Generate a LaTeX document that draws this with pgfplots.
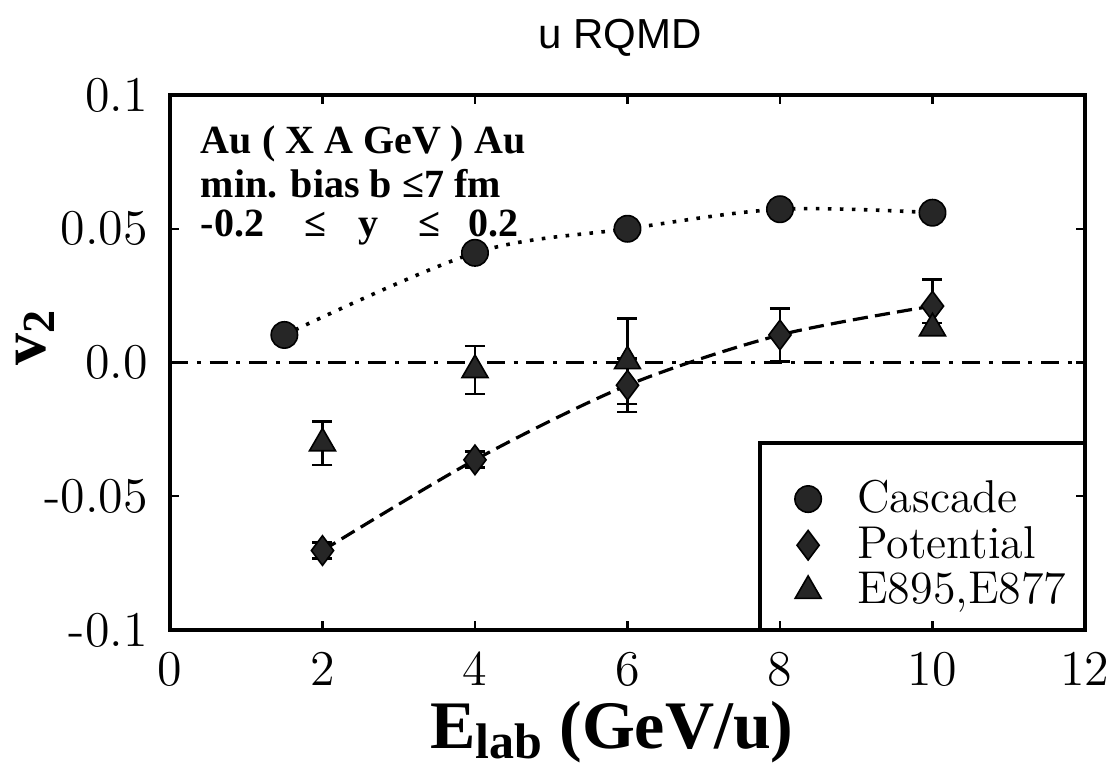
\documentclass[border=0pt]{standalone}
\usepackage{fontspec}
\usepackage{pgfplots}
\pgfplotsset{compat=1.18}
\newfontfamily\timesfont{Liberation Serif}
\newfontfamily\handfont{Liberation Sans}

% v2 versus beam energy
\pgfplotstableread{
x     y
1.5   0.0103
4     0.0410
6     0.0500
8     0.0573
10    0.0560
}\cascade
\pgfplotstableread{
x     y        e
2    -0.0703   0.003
4    -0.0364   0.003
6    -0.0085   0.010
8     0.0103   0.010
10    0.0211   0.010
}\potential
\pgfplotstableread{
x     y        e
2    -0.0302   0.0081
4    -0.0028   0.0090
6     0.0005   0.0160
10    0.0128   0.0020
}\experiment

\begin{document}
\begin{tikzpicture}
\begin{axis}[
  scale only axis,
  width=228.75pt, height=133.75pt,
  xmin=0, xmax=12, ymin=-0.1, ymax=0.1,
  xtick={0,2,...,12},
  ytick={-0.1,-0.05,0,0.05,0.1},
  yticklabels={-0.1,-0.05,0.0,0.05,0.1},
  /pgf/number format/assume math mode=true,
  tick align=inside,
  major tick length=2.2pt,
  axis line style={line width=0.8pt},
  tick style={line width=0.6pt, black},
  ticklabel style={font=\fontsize{12.5}{14}\selectfont},
  xticklabel style={yshift=-2pt},
  yticklabel style={xshift=-2pt},
  clip=false,
  xlabel={\timesfont\bfseries\fontsize{17}{20}\selectfont E\raisebox{-0.35ex}{\fontsize{12.5}{14}\selectfont lab} (GeV/u)},
  xlabel style={at={(axis description cs:0.483,-0.19)}, anchor=center},
  ylabel={\timesfont\bfseries\fontsize{16}{18}\selectfont v\raisebox{-0.3ex}{\fontsize{11.5}{13}\selectfont 2}},
  ylabel style={at={(axis description cs:-0.1475,0.546)}, anchor=center, rotate=0},
  legend style={draw=none, fill=none, at={(axis description cs:0.669,0.312)}, anchor=north west,
    font=\fontsize{11.5}{13}\selectfont, row sep=-2pt,
    /tikz/every odd column/.append style={column sep=7pt}},
  legend cell align=left,
]
% reference line at zero
\addplot[black, line width=0.7pt, dash pattern=on 4.5pt off 2.2pt on 1pt off 2.2pt, forget plot]
  coordinates {(0,0) (12,0)};
% model curves
\addplot[black, line width=0.9pt, dash pattern=on 0.9pt off 2.1pt, smooth, tension=0.55, forget plot]
  table[x=x, y=y] {\cascade};
\addplot[black, line width=0.8pt, dash pattern=on 3.8pt off 1.8pt, smooth, tension=0.5, forget plot]
  table[x=x, y=y] {\potential};
% markers
\addplot[only marks, mark=*, mark size=3.3pt, black, fill=black!85]
  table[x=x, y=y] {\cascade};
\addlegendentry{Cascade}
\addplot[only marks, mark=diamond*, mark size=3.7pt, black, fill=black!85,
  error bars/.cd, y dir=both, y explicit,
  error bar style={line width=0.7pt, black},
  error mark options={rotate=90, mark size=2.5pt, line width=0.7pt}]
  table[x=x, y=y, y error=e] {\potential};
\addlegendentry{Potential}
\addplot[only marks, mark=triangle*, mark size=3.75pt, black, fill=black!85,
  error bars/.cd, y dir=both, y explicit,
  error bar style={line width=0.7pt, black},
  error mark options={rotate=90, mark size=2.5pt, line width=0.7pt}]
  table[x=x, y=y, y error=e] {\experiment};
\addlegendentry{E895,E877}
% legend frame
\draw[line width=0.8pt] (rel axis cs:0.6448,0) -- (rel axis cs:0.6448,0.3495) -- (rel axis cs:1,0.3495);
% labels inside the frame
\node[anchor=base west, inner sep=0pt, font=\timesfont\bfseries\fontsize{10}{12}\selectfont]
  at (rel axis cs:0.033,0.8916) {Au ( X A GeV ) Au};
\node[anchor=base west, inner sep=0pt, font=\timesfont\bfseries\fontsize{10}{12}\selectfont]
  at (rel axis cs:0.033,0.8093) {min. bias b ≤7 fm};
\node[anchor=base west, inner sep=0pt, font=\timesfont\bfseries\fontsize{10}{12}\selectfont]
  at (rel axis cs:0.033,0.7346) {-0.2\hspace{10pt}≤\hspace{8pt}y\hspace{10pt}≤\hspace{7pt}0.2};
% title
\node[font=\handfont\fontsize{10.5}{12}\selectfont] at (rel axis cs:0.492,1.1065) {u RQMD};
\end{axis}
\pgfresetboundingbox
\path (current axis.south west) ++(-42.5pt,-33.5pt) rectangle ++(277pt,191pt);
\end{tikzpicture}
\end{document}
